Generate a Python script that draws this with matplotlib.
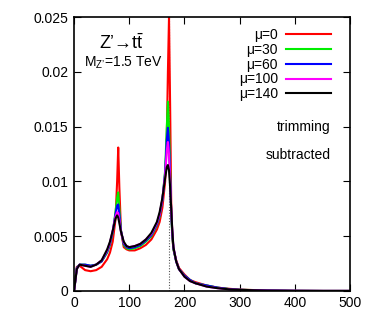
import numpy as np
import matplotlib
matplotlib.use('Agg')
import matplotlib.pyplot as plt
from matplotlib.ticker import FuncFormatter

plt.rcParams['font.family'] = ['Liberation Sans', 'DejaVu Sans']
plt.rcParams['mathtext.fontset'] = 'custom'
plt.rcParams['mathtext.rm'] = 'Liberation Sans'
plt.rcParams['mathtext.it'] = 'Liberation Sans:italic'

# masa (GeV) - puntos comunes para todas las curvas
masa = [0, 5, 10, 20, 30, 40, 50, 60, 65, 70, 75, 78, 80, 82, 85, 90, 95, 100,
        110, 120, 130, 140, 150, 155, 160, 165, 168, 170, 172, 174, 176, 178,
        180, 185, 190, 200, 210, 220, 240, 260, 280, 300, 350, 400, 450, 500]

mu0 = [0, 0.0022, 0.0023, 0.0019, 0.0018, 0.0019, 0.0022, 0.0029, 0.0035, 0.0045,
       0.0065, 0.0100, 0.0131, 0.0095, 0.0055, 0.0040, 0.0038, 0.0037,
       0.0037, 0.0039, 0.0042, 0.0047, 0.0056, 0.0063, 0.0076, 0.0100, 0.0140,
       0.0200, 0.0250, 0.0170, 0.0080, 0.0050, 0.0038, 0.0028, 0.0021, 0.0015,
       0.0010, 0.0008, 0.0005, 0.0003, 0.0002, 0.00012, 0.00004, 0.00001, 0, 0]

mu30 = [0, 0.0021, 0.0024, 0.0024, 0.0023, 0.0024, 0.0027, 0.0035, 0.0042, 0.0053,
        0.0072, 0.0085, 0.0090, 0.0075, 0.0055, 0.0042, 0.0039, 0.0038,
        0.0039, 0.0041, 0.0045, 0.0050, 0.0060, 0.0068, 0.0083, 0.0110, 0.0150,
        0.0173, 0.0150, 0.0110, 0.0070, 0.0050, 0.0038, 0.0027, 0.0020, 0.0014,
        0.0010, 0.0007, 0.0005, 0.0003, 0.00018, 0.00011, 0.00004, 0.00001, 0, 0]

mu60 = [0, 0.0021, 0.0024, 0.0024, 0.0023, 0.0024, 0.0027, 0.0036, 0.0043, 0.0054,
        0.0070, 0.0078, 0.0079, 0.0070, 0.0055, 0.0043, 0.0040, 0.0039,
        0.0040, 0.0042, 0.0046, 0.0051, 0.0061, 0.0069, 0.0083, 0.0108, 0.0138,
        0.0149, 0.0135, 0.0105, 0.0072, 0.0052, 0.0039, 0.0027, 0.0020, 0.0014,
        0.0010, 0.0007, 0.0005, 0.0003, 0.00017, 0.0001, 0.00004, 0.00001, 0, 0]

mu100 = [0, 0.0020, 0.0024, 0.0023, 0.0022, 0.0024, 0.0028, 0.0037, 0.0044, 0.0055,
         0.0068, 0.0072, 0.0071, 0.0065, 0.0054, 0.0044, 0.0041, 0.0040,
         0.0041, 0.0043, 0.0047, 0.0052, 0.0062, 0.0070, 0.0084, 0.0106, 0.0128,
         0.0136, 0.0125, 0.0100, 0.0074, 0.0054, 0.0040, 0.0027, 0.0020, 0.0013,
         0.0009, 0.0007, 0.0004, 0.00025, 0.00015, 0.0001, 0.00003, 0.00001, 0, 0]

mu140 = [0, 0.0020, 0.0024, 0.0023, 0.0022, 0.0024, 0.0028, 0.0038, 0.0045, 0.0055,
         0.0066, 0.0069, 0.0067, 0.0062, 0.0054, 0.0045, 0.0041, 0.0040,
         0.0041, 0.0043, 0.0047, 0.0053, 0.0063, 0.0072, 0.0085, 0.0103, 0.0113,
         0.0115, 0.0110, 0.0095, 0.0075, 0.0055, 0.0040, 0.0027, 0.0020, 0.0013,
         0.0009, 0.0007, 0.0004, 0.00025, 0.00015, 0.0001, 0.00003, 0.00001, 0, 0]

etiquetas = ['μ=0', 'μ=30', 'μ=60', 'μ=100', 'μ=140']
colores = ['#ff0000', '#00ee00', '#0000ff', '#ff00ff', '#000000']
m_top = 172.5

fig = plt.figure(figsize=(3.76, 3.19), dpi=100)
ax = fig.add_axes([0.197, 0.088, 0.734, 0.858])

for serie, et, c in zip([mu0, mu30, mu60, mu100, mu140], etiquetas, colores):
    ax.plot(masa, serie, color=c, lw=1.5, label=et)

ax.axvline(m_top, color='#555555', lw=0.8, ls=(0, (1, 1.5)), zorder=0)

ax.set_xlim(0, 500)
ax.set_ylim(0, 0.025)
ax.set_xticks([0, 100, 200, 300, 400, 500])
ax.set_yticks([0, 0.005, 0.01, 0.015, 0.02, 0.025])
ax.yaxis.set_major_formatter(FuncFormatter(lambda v, p: '%g' % v))
ax.tick_params(direction='in', length=5, width=0.8, top=True, right=True,
               labelsize=10, pad=4)
for s in ax.spines.values():
    s.set_linewidth(1.2)

ax.text(0.09, 0.905, "Z’→t$\\bar{\\mathrm{t}}$", transform=ax.transAxes,
        fontsize=13, ha='left', va='center')
ax.text(0.035, 0.835, "M$_{\\mathrm{Z’}}$=1.5 TeV", transform=ax.transAxes,
        fontsize=10, ha='left', va='center')
ax.text(0.93, 0.6, 'trimming', transform=ax.transAxes, fontsize=10,
        ha='right', va='center')
ax.text(0.93, 0.497, 'subtracted', transform=ax.transAxes, fontsize=10,
        ha='right', va='center')

ax.legend(loc='upper right', frameon=False, markerfirst=False, fontsize=10,
          handlelength=3.2, labelspacing=0.05, handletextpad=0.6,
          borderaxespad=0.2, bbox_to_anchor=(0.96, 0.99))

fig.savefig('out.png', dpi=100)
